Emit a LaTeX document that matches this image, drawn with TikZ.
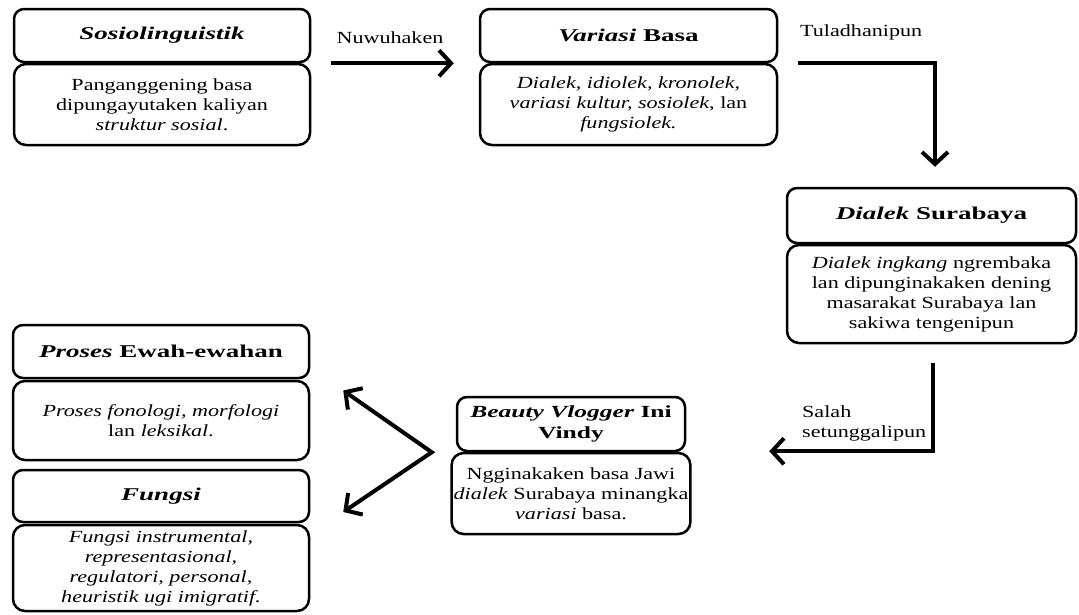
\documentclass[tikz,border=0pt]{standalone}
\usepackage{fontspec}
\setmainfont{Liberation Serif}[FakeStretch=1.3]
\newfontfamily\hdfont{Liberation Serif}[FakeStretch=1.5]
\usetikzlibrary{arrows.meta,calc}
\begin{document}
\begin{tikzpicture}[x=1pt,y=-1pt,
  hbox/.style={draw, line width=2.5pt, rounded corners=10pt, align=center, inner sep=2pt,
    font=\hdfont\fontsize{18}{23}\selectfont\bfseries},
  bbox/.style={draw, line width=2.5pt, rounded corners=12pt, align=center, inner sep=2pt,
    font=\fontsize{17}{20}\selectfont},
  conn/.style={line width=4pt, -{Straight Barb[length=12pt,width=26pt]}},
  lbl/.style={font=\fontsize{17}{20}\selectfont, align=left, inner sep=0pt}
]
\useasboundingbox (0,0) rectangle (1079,614);

% Box 1
\node[hbox, minimum width=296pt, minimum height=53pt] (h1) at (162,35.5) {\textit{Sosiolinguistik}};
\node[bbox, minimum width=296pt, minimum height=81pt] (b1) at (162,104.5)
  {Panganggening basa\\dipungayutaken kaliyan\\\textit{struktur sosial}.};

% Box 2
\node[hbox, minimum width=297pt, minimum height=53pt] (h2) at (628.5,35.5) {\textit{Variasi} Basa};
\node[bbox, minimum width=297pt, minimum height=81pt] (b2) at (628.5,104.5)
  {\textit{Dialek, idiolek, kronolek,}\\\textit{variasi kultur, sosiolek}, lan\\\textit{fungsiolek.}};

% Box 3
\node[hbox, minimum width=289pt, minimum height=55pt] (h3) at (931.5,215.5) {\textit{Dialek} Surabaya};
\node[bbox, minimum width=289pt, minimum height=98pt] (b3) at (931.5,294)
  {\textit{Dialek ingkang} ngrembaka\\lan dipunginakaken dening\\masarakat Surabaya lan\\sakiwa tengenipun};

% Box 4
\node[hbox, minimum width=228pt, minimum height=54pt, inner sep=1pt,
  font=\hdfont\fontsize{17}{21}\selectfont\bfseries] (h4) at (571,424) {\textit{Beauty Vlogger} Ini\\Vindy};
\node[bbox, minimum width=228pt, minimum height=81pt] (b4) at (571,493.5)
  {Ngginakaken basa Jawi\\\textit{dialek} Surabaya minangka\\\textit{variasi} basa.};

% Box 5
\node[hbox, minimum width=296pt, minimum height=53pt] (h5) at (161,351.5) {\textit{Proses} Ewah-ewahan};
\node[bbox, minimum width=296pt, minimum height=79pt] (b5) at (161,420.5)
  {\textit{Proses fonologi, morfologi}\\lan \textit{leksikal}.};

% Box 6
\node[hbox, minimum width=296pt, minimum height=52pt] (h6) at (161,496) {\textit{Fungsi}};
\node[bbox, minimum width=296pt, minimum height=86pt] (b6) at (161,568)
  {\textit{Fungsi instrumental,}\\\textit{representasional,}\\\textit{regulatori, personal,}\\\textit{heuristik ugi imigratif.}};

% Connectors
\draw[conn] ($(h1.south east)+(20,0)$) -- ($(h2.south west)+(-25,0)$);
\node[lbl] (l1) at (390,38) {Nuwuhaken};

\draw[conn] ($(h2.south east)+(20,0)$) -| ($(h3.north)+(3.5,-20)$);
\node[lbl, anchor=west] (l2) at (800,32) {Tuladhanipun};

\draw[conn] ($(b3.south)+(1.5,19)$) |- ($(h4.south east)+(83,-1)$);
\node[lbl, anchor=west] (l3) at (802,423) {Salah\\setunggalipun};

\coordinate (apex) at ($(h4.south west)+(-24,0)$);
\coordinate (t5) at ($(b5.east)+(33,-30)$);
\coordinate (t6) at ($(h6.east)+(33,16)$);
\draw[line width=4pt, {Straight Barb[length=12pt,width=26pt]}-{Straight Barb[length=12pt,width=26pt]}]
  (t5) -- (apex) -- (t6);
\end{tikzpicture}
\end{document}
